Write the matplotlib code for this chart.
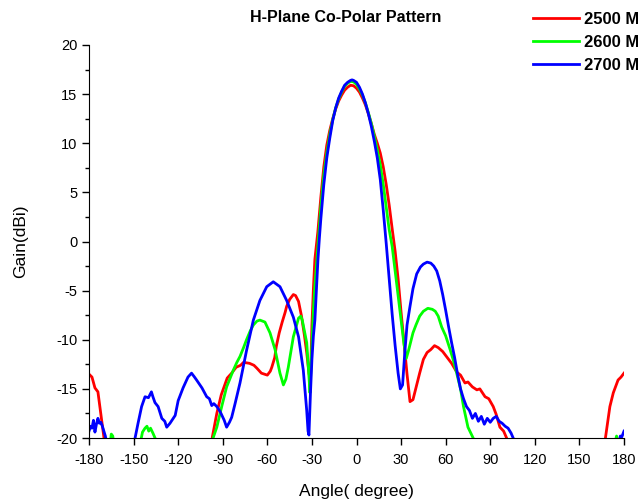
import numpy as np
import matplotlib
matplotlib.use('Agg')
import matplotlib.pyplot as plt
from matplotlib.ticker import MultipleLocator

plt.rcParams['font.family'] = ['Liberation Sans', 'DejaVu Sans']
plt.rcParams['axes.unicode_minus'] = False

nan = np.nan

# 2500 MHz (values below -20 are clipped by the axis)
ang_2500 = [-180, -178, -176, -174, -172, -170, -169,
            -98, -97, -94, -91, -87, -84, -81, -78, -76, -72, -69, -67, -64, -62, -60, -58, -57,
            -55, -54, -52, -50, -48, -47, -45, -42.5, -41, -39, -37, -35, -33.5, -32, -31,
            -30, -29, -28, -26, -24, -22, -20, -18, -16, -14, -12, -10, -8, -6, -4, -2, 0,
            2, 4, 6, 8, 10, 12, 14, 16, 18, 20, 22, 24, 26, 28, 30, 32, 34, 36, 38, 40,
            42.5, 45, 47.5, 50, 52.5, 55, 58, 61.5, 64, 67.5, 70, 73, 75, 78, 81, 83, 86.5,
            89, 92, 94, 96.5, 99, 101, 103, 166, 167.5, 170.5, 172.8, 176, 178, 180]
gain_2500 = [-13.5, -13.8, -14.9, -15.3, -17.6, -19.9, -21.5,
             -21.5, -19.9, -17.5, -15.6, -13.9, -13.4, -12.8, -12.6, -12.3, -12.4, -12.6, -12.9, -13.4, -13.5, -13.6, -13.2, -12.8,
             -11.8, -10.7, -9.3, -8.2, -7.2, -6.6, -5.9, -5.4, -5.5, -6.1, -7.6, -9.6, -11.3, -13.4, -14.2,
             -8.5, -4.8, -1.8, 1.0, 4.5, 7.6, 9.8, 11.3, 12.5, 13.5, 14.3, 14.9, 15.4, 15.7, 15.9, 15.85, 15.6,
             15.2, 14.6, 13.9, 13.0, 12.0, 10.9, 10.0, 9.0, 7.6, 5.8, 3.7, 1.3, -1.0, -3.8, -7.2, -10.3, -13.5, -16.3, -16.1, -14.9,
             -13.4, -12.0, -11.3, -11.0, -10.6, -10.8, -11.2, -11.9, -12.4, -13.3, -13.6, -14.4, -14.3, -14.8, -15.1, -15.0, -15.8,
             -16.0, -16.8, -17.6, -18.9, -19.3, -20.0, -21.5, -21.5, -20.0, -16.8, -15.4, -14.1, -13.8, -13.4]

# 2600 MHz
ang_2600 = [-166, -165, -164, -163,
            -145.5, -144, -142.3, -141, -139.8, -138.6, -137, -134.7, -134,
            -97.5, -96.5, -94, -90.7, -87.4, -85, -82.9, -80.5, -78.4, -76, -74, -71.5, -69.4, -67, -65, -61.6,
            -58.2, -54.8, -51.5, -49.2, -47.5, -45.9, -42.5, -39, -37.5, -36.5, -33.5, -32.3, -31.3,
            -30, -29, -28, -27, -26, -24, -22, -20, -18, -16, -14, -12, -10, -8, -6, -4, -2, 0,
            2, 4, 6, 8, 10, 12, 14, 16, 18, 20, 22, 24, 26, 28, 30, 32, 33.5, 35, 38, 40, 42.5, 45,
            48, 51, 53, 55, 57.3, 60, 63, 65, 67.4, 70, 72, 75, 78.5, 80,
            173, 175, 176]
gain_2600 = [-21.0, -19.6, -19.8, -21.0,
             -20.5, -19.4, -19.0, -18.8, -19.3, -19.0, -19.5, -20.3, -21.0,
             -21.0, -20.0, -18.9, -16.8, -14.8, -13.9, -13.1, -12.3, -11.7, -10.8, -10.0, -9.1, -8.5, -8.1, -8.0, -8.2,
             -9.3, -11.0, -13.4, -14.6, -14.0, -12.8, -9.7, -7.8, -7.6, -8.0, -10.3, -13.0, -15.4,
             -10.5, -7.0, -4.5, -2.5, -0.5, 3.5, 6.8, 9.0, 10.9, 12.4, 13.6, 14.5, 15.2, 15.8, 16.1, 16.3, 16.25, 16.0,
             15.5, 14.9, 14.1, 13.1, 12.0, 10.7, 9.3, 7.8, 5.8, 3.5, 1.2, -0.5, -3.0, -5.5, -8.0, -10.5, -11.9, -11.1, -9.3, -8.5, -7.6, -7.1,
             -6.8, -6.9, -7.1, -7.6, -8.7, -9.6, -11.0, -12.0, -13.4, -15.0, -16.8, -18.9, -20.0, -21.5,
             -21.0, -19.8, -20.5]

# 2700 MHz
ang_2700 = [-180, -179, -178, -177, -176, -175, -174, -173, -172, -171, -170, -169, -168,
            -150, -149, -147, -144.6, -142.3, -140, -139, -138, -137, -135.6, -133.5, -131, -129, -127.7,
            -125.5, -122, -120, -116.7, -113.4, -111, -109, -107.6, -104, -100.8, -99, -97.4, -96, -94,
            -91.8, -89, -87.4, -85.5, -84, -81.7, -78.4, -74, -69.4, -65, -60.4, -56, -51.5, -47,
            -42.5, -39, -35.8, -33.5, -32.6, -32, -31, -30, -29, -28, -27, -26, -25, -24, -22, -20,
            -18, -16, -14, -12, -10, -8, -6, -4, -3, -2, 0, 2, 4, 6, 8, 10, 12, 14, 16, 18, 20, 22,
            24, 26, 28, 29.5, 31, 32.5, 34, 36, 38, 40.5, 43, 45, 47.5, 50, 52, 54, 56, 58, 60, 62,
            64, 66, 68, 70, 72, 74, 76, 78, 80, 82, 84, 86, 88, 90, 92, 94, 96, 98, 100, 102, 104, 106, 108,
            176, 177.5, 178.5, 179.5, 180]
gain_2700 = [-19.3, -18.8, -19.0, -18.2, -19.4, -18.6, -18.0, -18.5, -18.4, -18.8, -19.3, -19.8, -20.6,
             -21.0, -20.0, -18.5, -16.8, -15.8, -15.9, -15.6, -15.3, -15.8, -16.4, -16.8, -18.0, -18.3, -18.9,
             -18.5, -17.7, -16.2, -14.9, -13.8, -13.4, -13.8, -14.1, -14.9, -15.8, -16.0, -16.7, -16.5, -16.8,
             -17.3, -18.2, -18.9, -18.4, -17.9, -16.5, -14.4, -11.1, -8.0, -6.0, -4.6, -4.1, -4.6, -6.0,
             -7.7, -9.7, -13.1, -17.2, -19.3, -19.7, -15.5, -12.0, -9.6, -8.0, -5.0, -2.0, 0.3, 2.3, 5.8, 8.5,
             10.5, 12.3, 13.6, 14.6, 15.3, 15.9, 16.2, 16.4, 16.45, 16.4, 16.2, 15.7, 15.0, 14.1, 13.0, 11.7, 10.2, 8.5, 6.3, 3.2, -0.2, -3.8,
             -7.4, -10.6, -13.4, -15.0, -14.6, -11.3, -8.5, -6.6, -4.8, -3.3, -2.6, -2.3, -2.1, -2.2, -2.5, -3.0, -4.0, -5.4, -7.0, -8.7,
             -10.3, -11.8, -13.5, -15.0, -16.0, -16.8, -17.2, -18.0, -17.5, -18.3, -17.8, -18.6, -18.0, -18.4, -18.0, -17.8, -18.3, -18.5, -18.8, -19.0, -19.5, -20.2, -21.0,
             -21.0, -19.8, -19.9, -19.5, -19.3]

# segments that dip out of view are broken at these angles
breaks_2500 = [(-169, -98), (103, 166)]
breaks_2600 = [(-163, -145.5), (-134, -97.5), (80, 173)]
breaks_2700 = [(-168, -150), (108, 176)]

series = [
    ("2500 MHz", ang_2500, gain_2500, breaks_2500, "#ff0000"),
    ("2600 MHz", ang_2600, gain_2600, breaks_2600, "#00ff00"),
    ("2700 MHz", ang_2700, gain_2700, breaks_2700, "#0000ff"),
]

fig = plt.figure(figsize=(6.38, 5.03), dpi=100)
ax = fig.add_axes([89 / 638, 1 - 438 / 503, 535 / 638, 393 / 503])

for label, a, g, brk, col in series:
    # insert NaN gaps between separate visible pieces
    xs, ys = [], []
    for i in range(len(a)):
        xs.append(a[i])
        ys.append(g[i])
        for (b0, b1) in brk:
            if a[i] == b0 and i + 1 < len(a) and a[i + 1] == b1:
                xs.append(nan)
                ys.append(nan)
    ax.plot(xs, ys, color=col, lw=2.0, label=label, solid_joinstyle='round')

ax.set_xlim(-180, 180)
ax.set_ylim(-20, 20)
ax.set_xticks(range(-180, 181, 30))
ax.yaxis.set_major_locator(MultipleLocator(5))
ax.yaxis.set_minor_locator(MultipleLocator(2.5))
ax.spines['top'].set_visible(False)
ax.spines['right'].set_visible(False)
ax.tick_params(axis='both', which='major', direction='out', length=5, width=1, labelsize=10.5)
ax.tick_params(axis='x', which='major', pad=6)
ax.tick_params(axis='y', which='minor', direction='out', length=3, width=1)

ax.set_xlabel("Angle( degree)", fontsize=12.5, labelpad=12)
ax.set_ylabel("Gain(dBi)", fontsize=12.5, labelpad=20)

fig.text(346 / 638, 1 - 18 / 503, "H-Plane Co-Polar Pattern", fontsize=11.5,
         fontweight='bold', ha='center', va='center')

leg = fig.legend(loc='upper left', bbox_to_anchor=(521 / 638, 1 - 0 / 503), frameon=False,
                 handlelength=2.8, handletextpad=0.3, borderpad=0.2, labelspacing=0.5,
                 prop={'weight': 'bold', 'size': 12})

fig.savefig("out.png", dpi=100)
